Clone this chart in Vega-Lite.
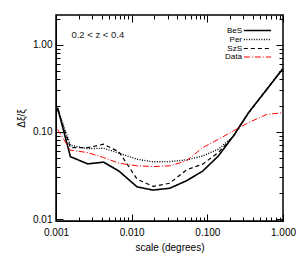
{
  "$schema": "https://vega.github.io/schema/vega-lite/v6.json",
  "width": 227,
  "height": 206,
  "autosize": "none",
  "padding": {"left": 56, "top": 15, "right": 17, "bottom": 36},
  "background": "white",
  "config": {
    "font": "Liberation Sans",
    "view": {"stroke": "black", "strokeWidth": 1.5},
    "axis": {"grid": false, "domainColor": "black", "tickColor": "black", "labelColor": "black", "titleColor": "black", "labelFontSize": 10, "titleFontSize": 10, "titleFontWeight": "normal"},
    "legend": {"padding": 0, "rowPadding": 0}
  },
  "datasets": {
    "curves": [
      {"series": "BeS", "x": 0.00105, "y": 0.19},
      {"series": "BeS", "x": 0.00155, "y": 0.052},
      {"series": "BeS", "x": 0.00263, "y": 0.043},
      {"series": "BeS", "x": 0.00425, "y": 0.045},
      {"series": "BeS", "x": 0.0068, "y": 0.0355},
      {"series": "BeS", "x": 0.0118, "y": 0.0234},
      {"series": "BeS", "x": 0.0192, "y": 0.0215},
      {"series": "BeS", "x": 0.0319, "y": 0.0226},
      {"series": "BeS", "x": 0.053, "y": 0.0275},
      {"series": "BeS", "x": 0.0867, "y": 0.0355},
      {"series": "BeS", "x": 0.14, "y": 0.053},
      {"series": "BeS", "x": 0.221, "y": 0.09},
      {"series": "BeS", "x": 0.35, "y": 0.166},
      {"series": "BeS", "x": 0.61, "y": 0.308},
      {"series": "BeS", "x": 1.0, "y": 0.536},
      {"series": "Per", "x": 0.00105, "y": 0.185},
      {"series": "Per", "x": 0.00155, "y": 0.0703},
      {"series": "Per", "x": 0.00263, "y": 0.0644},
      {"series": "Per", "x": 0.00425, "y": 0.065},
      {"series": "Per", "x": 0.0068, "y": 0.057},
      {"series": "Per", "x": 0.0118, "y": 0.0486},
      {"series": "Per", "x": 0.0192, "y": 0.0454},
      {"series": "Per", "x": 0.0319, "y": 0.0457},
      {"series": "Per", "x": 0.053, "y": 0.0478},
      {"series": "Per", "x": 0.0867, "y": 0.053},
      {"series": "Per", "x": 0.14, "y": 0.0634},
      {"series": "Per", "x": 0.221, "y": 0.089},
      {"series": "Per", "x": 0.35, "y": 0.166},
      {"series": "Per", "x": 0.61, "y": 0.308},
      {"series": "Per", "x": 1.0, "y": 0.536},
      {"series": "SzS", "x": 0.00105, "y": 0.18},
      {"series": "SzS", "x": 0.00155, "y": 0.066},
      {"series": "SzS", "x": 0.00263, "y": 0.066},
      {"series": "SzS", "x": 0.00425, "y": 0.0723},
      {"series": "SzS", "x": 0.0068, "y": 0.059},
      {"series": "SzS", "x": 0.0118, "y": 0.0287},
      {"series": "SzS", "x": 0.0192, "y": 0.0237},
      {"series": "SzS", "x": 0.0319, "y": 0.0258},
      {"series": "SzS", "x": 0.053, "y": 0.0367},
      {"series": "SzS", "x": 0.0867, "y": 0.0427},
      {"series": "SzS", "x": 0.14, "y": 0.058},
      {"series": "SzS", "x": 0.221, "y": 0.089},
      {"series": "SzS", "x": 0.35, "y": 0.166},
      {"series": "SzS", "x": 0.61, "y": 0.308},
      {"series": "SzS", "x": 1.0, "y": 0.536},
      {"series": "Data", "x": 0.00105, "y": 0.107},
      {"series": "Data", "x": 0.00155, "y": 0.0617},
      {"series": "Data", "x": 0.00263, "y": 0.058},
      {"series": "Data", "x": 0.00425, "y": 0.0508},
      {"series": "Data", "x": 0.0068, "y": 0.0438},
      {"series": "Data", "x": 0.0118, "y": 0.0408},
      {"series": "Data", "x": 0.0192, "y": 0.0401},
      {"series": "Data", "x": 0.0319, "y": 0.0408},
      {"series": "Data", "x": 0.053, "y": 0.0466},
      {"series": "Data", "x": 0.0867, "y": 0.066},
      {"series": "Data", "x": 0.14, "y": 0.0824},
      {"series": "Data", "x": 0.221, "y": 0.1027},
      {"series": "Data", "x": 0.35, "y": 0.128},
      {"series": "Data", "x": 0.61, "y": 0.159},
      {"series": "Data", "x": 1.0, "y": 0.166}
    ],
    "note": [{"label": "0.2 < z < 0.4"}]
  },
  "resolve": {"axis": {"x": "independent", "y": "independent"}},
  "layer": [
    {
      "data": {"name": "curves"},
      "mark": {"type": "line", "clip": true},
      "encoding": {
        "x": {"field": "x", "type": "quantitative",
          "scale": {"type": "log", "domain": [0.001, 1], "nice": false},
          "axis": {"orient": "bottom", "title": "scale (degrees)", "titlePadding": 2,
            "values": [0.001,0.002,0.003,0.004,0.005,0.006,0.007,0.008,0.009,0.01,0.02,0.03,0.04,0.05,0.06,0.07,0.08,0.09,0.1,0.2,0.3,0.4,0.5,0.6,0.7,0.8,0.9,1],
            "labelExpr": "abs(log(datum.value)/LN10 - round(log(datum.value)/LN10)) < 1e-6 ? format(datum.value, '.3f') : ''",
            "tickSize": {"condition": {"test": "abs(log(datum.value)/LN10 - round(log(datum.value)/LN10)) < 1e-6", "value": -7}, "value": -4},
            "labelPadding": 13, "labelFlush": false, "labelOverlap": false}},
        "y": {"field": "y", "type": "quantitative",
          "scale": {"type": "log", "domain": [0.0095, 2.2], "nice": false},
          "axis": {"orient": "left", "title": "Δξ/ξ", "titlePadding": 6,
            "values": [0.01,0.02,0.03,0.04,0.05,0.06,0.07,0.08,0.09,0.1,0.2,0.3,0.4,0.5,0.6,0.7,0.8,0.9,1,2],
            "labelExpr": "abs(log(datum.value)/LN10 - round(log(datum.value)/LN10)) < 1e-6 ? format(datum.value, '.2f') : ''",
            "tickSize": {"condition": {"test": "abs(log(datum.value)/LN10 - round(log(datum.value)/LN10)) < 1e-6", "value": -7}, "value": -4},
            "labelPadding": 11, "labelOverlap": false}},
        "color": {"field": "series", "type": "nominal",
          "scale": {"domain": ["BeS", "Per", "SzS", "Data"], "range": ["black", "black", "black", "red"]},
          "legend": {"title": null, "orient": "none", "legendX": 197, "legendY": 11, "symbolType": "M-3.9,0H3.9", "symbolSize": 49, "labelFontSize": 8, "labelAlign": "right", "labelOffset": -20, "symbolStrokeWidth": 1.2}},
        "strokeDash": {"field": "series", "type": "nominal",
          "scale": {"domain": ["BeS", "Per", "SzS", "Data"], "range": [[1, 0], [1, 1.5], [4, 3], [6, 2, 1, 2]]},
          "legend": {"title": null, "orient": "none", "legendX": 197, "legendY": 11, "symbolType": "M-3.9,0H3.9", "symbolSize": 49, "labelFontSize": 8, "labelAlign": "right", "labelOffset": -20, "symbolStrokeWidth": 1.2}},
        "strokeWidth": {"field": "series", "type": "nominal",
          "scale": {"domain": ["BeS", "Per", "SzS", "Data"], "range": [1.6, 1, 1.3, 1]},
          "legend": null}
      }
    },
    {
      "data": {"name": "note"},
      "mark": {"type": "text", "align": "left", "baseline": "middle", "fontSize": 9.5, "font": "Liberation Sans", "fontWeight": "normal", "color": "#222"},
      "encoding": {
        "x": {"datum": 0.0016, "type": "quantitative", "scale": {"type": "log", "domain": [0.001, 1], "nice": false},
          "axis": {"orient": "top", "labels": false, "title": null, "domain": false,
            "values": [0.001,0.002,0.003,0.004,0.005,0.006,0.007,0.008,0.009,0.01,0.02,0.03,0.04,0.05,0.06,0.07,0.08,0.09,0.1,0.2,0.3,0.4,0.5,0.6,0.7,0.8,0.9,1],
            "tickSize": {"condition": {"test": "abs(log(datum.value)/LN10 - round(log(datum.value)/LN10)) < 1e-6", "value": -7}, "value": -4}}},
        "y": {"datum": 1.3, "type": "quantitative", "scale": {"type": "log", "domain": [0.0095, 2.2], "nice": false},
          "axis": {"orient": "right", "labels": false, "title": null, "domain": false,
            "values": [0.01,0.02,0.03,0.04,0.05,0.06,0.07,0.08,0.09,0.1,0.2,0.3,0.4,0.5,0.6,0.7,0.8,0.9,1,2],
            "tickSize": {"condition": {"test": "abs(log(datum.value)/LN10 - round(log(datum.value)/LN10)) < 1e-6", "value": -7}, "value": -4}}},
        "text": {"field": "label"}
      }
    }
  ]
}
